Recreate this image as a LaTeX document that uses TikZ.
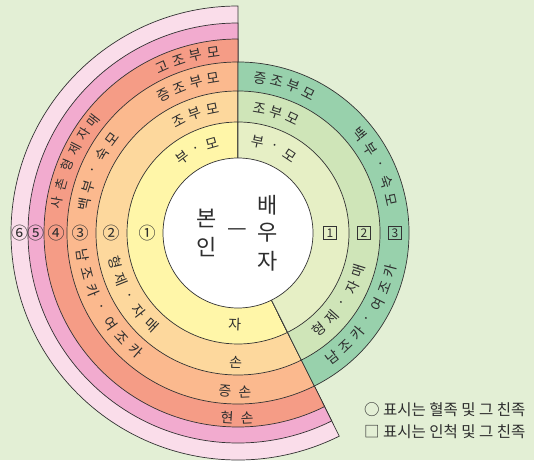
\documentclass[tikz,border=0pt]{standalone}
\usepackage{fontspec}
\setmainfont{Noto Sans CJK KR}
\definecolor{bg}{HTML}{E3EFD5}
\definecolor{ra}{HTML}{FFF6A8}
\definecolor{rb}{HTML}{FDD89D}
\definecolor{rc}{HTML}{FBB98E}
\definecolor{rd}{HTML}{F59C86}
\definecolor{re}{HTML}{F2ABCF}
\definecolor{rf}{HTML}{FADDEA}
\definecolor{ga}{HTML}{E6EFC5}
\definecolor{gb}{HTML}{CFE5B8}
\definecolor{gc}{HTML}{98D1AC}
\definecolor{linec}{HTML}{333333}
\definecolor{txt}{HTML}{2E2E2E}
\newcommand\cwarc[4][]{\foreach \aa/\ch [count=\k] in {#4} \node[rt, #1, rotate=\aa-90] (#2\k) at (\aa:#3) {\ch};}
\newcommand\ccwarc[4][]{\foreach \aa/\ch [count=\k] in {#4} \node[rt, #1, rotate=\aa+90] (#2\k) at (\aa:#3) {\ch};}
\begin{document}
\begin{tikzpicture}[x=1pt,y=1pt,
  ln/.style={draw=linec, line width=0.7pt},
  rt/.style={font=\fontsize{14}{14}\selectfont, text=txt, inner sep=0pt},
  sm/.style={font=\fontsize{13}{13}\selectfont},
  big/.style={font=\fontsize{22}{22}\selectfont, text=txt, inner sep=0pt},
  num/.style={font=\fontsize{17}{17}\selectfont, text=txt, inner sep=0pt},
  boxnum/.style={draw=linec, line width=0.6pt, minimum size=13pt, inner sep=0pt, font=\fontsize{12}{12}\selectfont, text=txt},
  leg/.style={font=\fontsize{15.5}{15.5}\selectfont, text=txt, inner sep=0pt, anchor=west}]
\useasboundingbox[fill=bg] (0,0) rectangle (534,460);
\coordinate (O) at (238,227);
\begin{scope}[shift={(O)}]
  \foreach \r/\col in {227/rf,210/re,194/rd,171/rc,142/rb,111/ra}
    \filldraw[fill=\col, ln] (0,0) -- (90:\r) arc[start angle=90, end angle=296.5, radius=\r] -- cycle;
  \foreach \r/\col in {171/gc,142/gb,111/ga}
    \filldraw[fill=\col, ln] (0,0) -- (-63.5:\r) arc[start angle=-63.5, end angle=90, radius=\r] -- cycle;
  \filldraw[fill=white, ln] (0,0) circle[radius=75];
  % blood side, top
  \cwarc{ba}{93}{126.4/부, 116.2/·, 106/모}
  \cwarc{bb}{126.5}{117.8/조, 109.7/부, 101.5/모}
  \cwarc{bc}{156.5}{118.5/증, 112.1/조, 105.6/부, 99.2/모}
  \cwarc{bd}{182.5}{114.4/고, 108.9/조, 103.3/부, 97.8/모}
  \cwarc{be}{156.5}{169.4/백, 162.9/부, 156.4/·, 149.8/숙, 143.3/모}
  \cwarc[sm]{bf}{183.5}{170.4/사, 164.6/촌, 158.2/형, 152.7/제, 147.4/자, 142.2/매}
  % blood side, lower left
  \ccwarc{bg}{126.5}{193.4/형, 201.75/제, 210.1/·, 218.45/자, 226.8/매}
  \ccwarc{bh}{156.5}{188/남, 194.8/조, 201.7/카, 208.5/·, 215.3/여, 222.2/조, 229/카}
  % bottom
  \ccwarc{bi}{92}{268/자}
  \ccwarc{bj}{129}{269/손}
  \ccwarc{bk}{159}{265.3/증, 272.5/손}
  \ccwarc{bl}{185}{266.6/현, 272.8/손}
  % circled numbers
  \node[num] (n1) at (180:91) {①};
  \node[num] (n2) at (180:127) {②};
  \node[num] (n3) at (180:158) {③};
  \node[num] (n4) at (180:182) {④};
  \node[num] (n5) at (180:202.5) {⑤};
  \node[num] (n6) at (180:218.5) {⑥};
  % spouse side
  \cwarc{sa}{93}{78/부, 67.2/·, 56.3/모}
  \cwarc{sb}{126.5}{80/조, 72.25/부, 64.5/모}
  \cwarc{sc}{156.5}{81.9/증, 75.6/조, 69.4/부, 63.1/모}
  \cwarc{sd}{156.5}{39.2/백, 32.45/부, 25.7/·, 18.95/숙, 12.2/모}
  \ccwarc{se}{126.5}{-49.9/형, -41.8/제, -33.7/·, -25.6/자, -17.5/매}
  \ccwarc{sf}{156.5}{-52.8/남, -46.4/조, -39.9/카, -33.5/·, -27.1/여, -20.6/조, -14.2/카}
  \node[boxnum] (m1) at (0:92) {1};
  \node[boxnum] (m2) at (0:126) {2};
  \node[boxnum] (m3) at (0:157) {3};
\end{scope}
% centre
\node[big] (c1) at (207,242) {본};
\node[big] (c2) at (207,213) {인};
\node[big] (c3) at (237,228) {—};
\node[big] (c4) at (268,255) {배};
\node[big] (c5) at (268,227) {우};
\node[big] (c6) at (268,199) {자};
% legend
\node[leg] (l1) at (364,50) {○ 표시는 혈족 및 그 친족};
\node[leg] (l2) at (364,28) {□ 표시는 인척 및 그 친족};
\end{tikzpicture}
\end{document}
